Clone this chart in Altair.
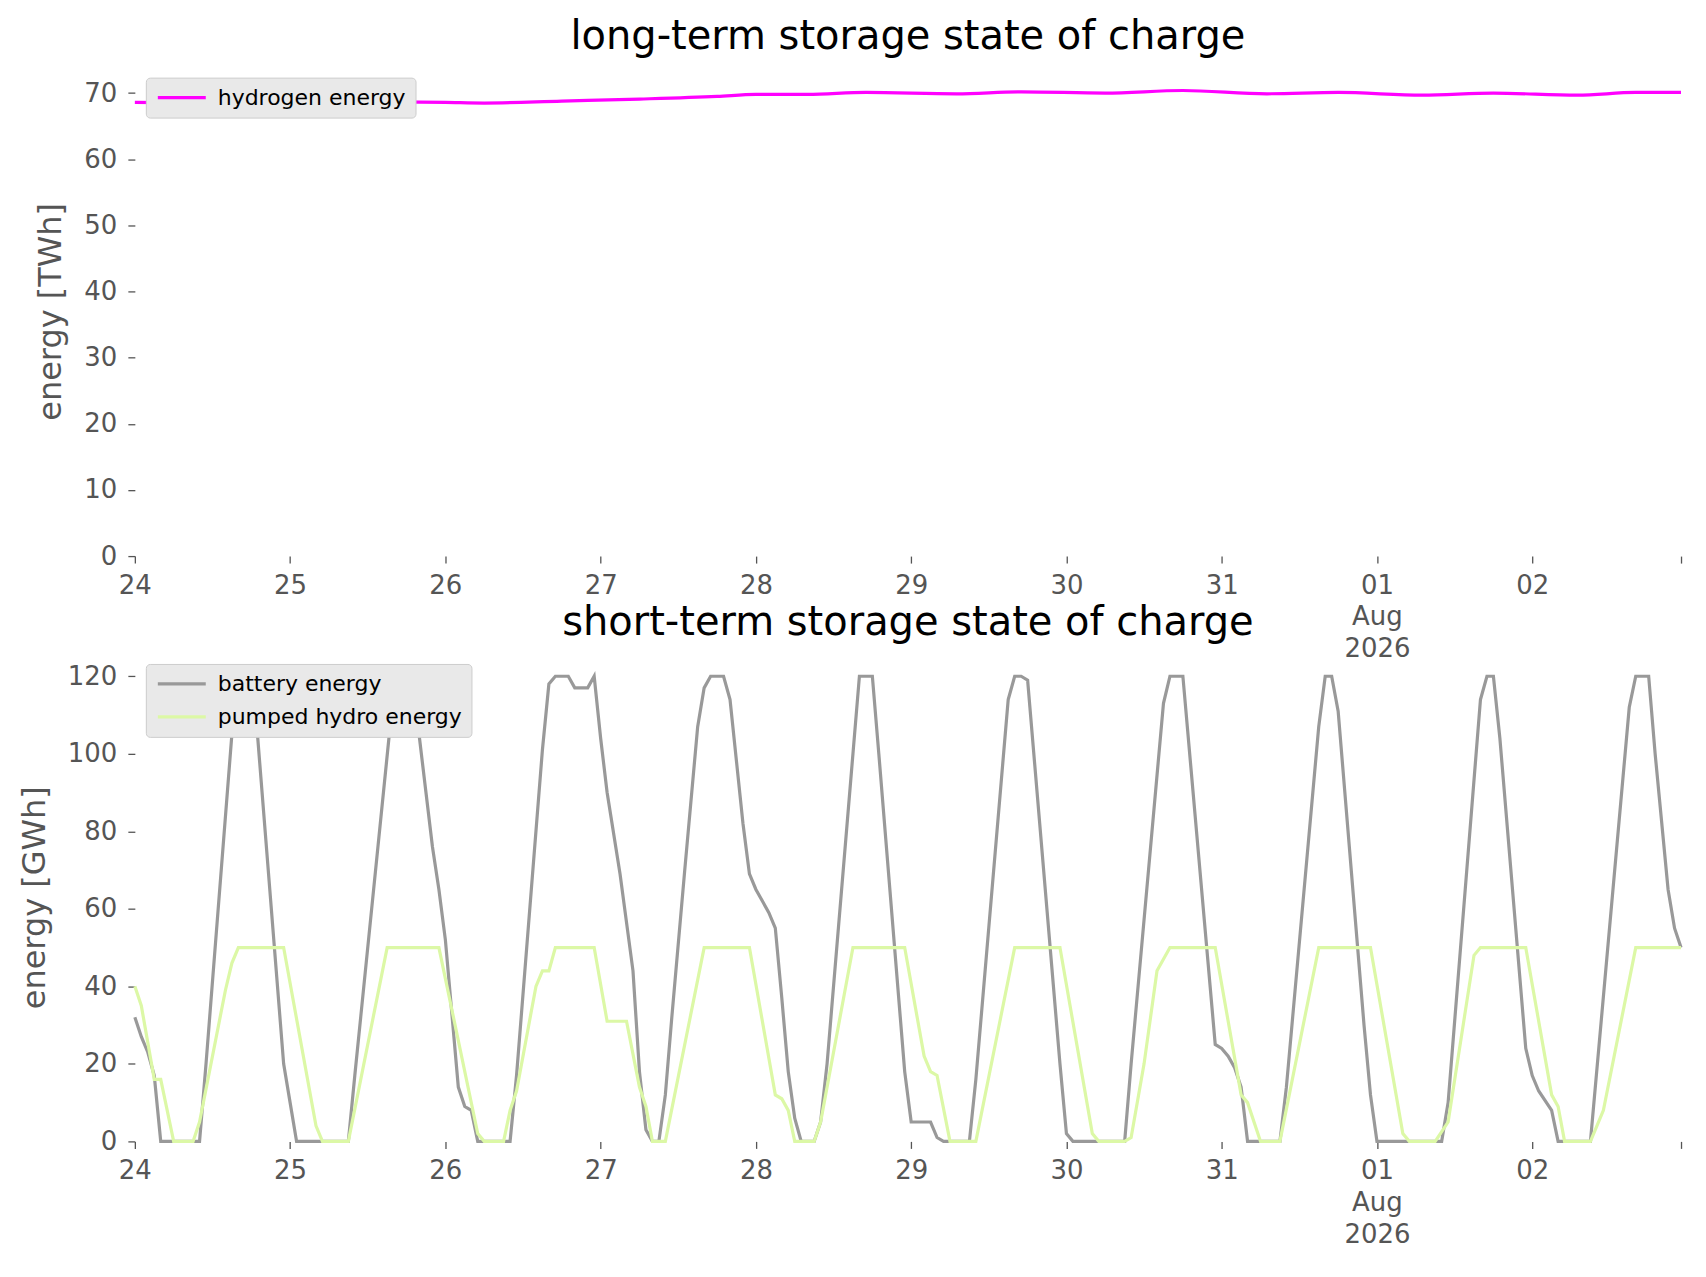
import altair as alt
import pandas as pd

# x positions: hours after 2026-07-24 00:00 (hourly snapshots up to 2026-08-02 23:00)
x_tick_hours = [0, 24, 48, 72, 96, 120, 144, 168, 192, 216, 239]
x_tick_labels = ["24", "25", "26", "27", "28", "29", "30", "31", "01\nAug\n2026", "02", ""]

hydrogen_hours = [0, 12, 24, 36, 48, 54, 66, 78, 90, 96, 104, 113, 127, 137, 150, 162,
                  175, 186, 199, 210, 223, 232, 239]
hydrogen_twh = [68.6, 68.5, 68.6, 68.7, 68.6, 68.5, 68.8, 69.1, 69.5, 69.8, 69.8, 70.1,
                69.9, 70.2, 70.0, 70.4, 69.9, 70.1, 69.7, 70.0, 69.7, 70.1, 70.1]

battery_hours = [0, 1, 2, 3, 4,
                 10, 11, 15, 16, 17, 18, 19, 23, 24, 25,
                 33, 34, 40, 41, 43, 44, 45, 46, 47, 48, 49, 50, 51, 52, 53,
                 58, 59, 63, 64, 65, 67, 68, 70, 71, 72, 73, 75, 77, 78, 79, 80,
                 81, 82, 83, 85, 87, 88, 89, 91, 92, 94, 95, 96, 97, 98, 99, 100, 101, 102, 103,
                 105, 106, 107, 111, 112, 114, 115, 119, 120, 123, 124, 125,
                 129, 130, 135, 136, 137, 138, 143, 144, 145,
                 153, 154, 159, 160, 162, 167, 168, 169, 170, 171, 172,
                 177, 178, 183, 184, 185, 186, 190, 191, 192,
                 202, 203, 208, 209, 210, 211, 215, 216, 217, 219, 220,
                 225, 231, 232, 234, 235, 237, 238, 239]
battery_gwh = [32, 27, 23, 17, 0,
               0, 20, 105, 118, 120, 120, 104, 20, 10, 0,
               0, 17, 116, 120, 120, 104, 90, 76, 65, 52, 33, 14, 9, 8, 0,
               0, 17, 101, 118, 120, 120, 117, 117, 120, 104, 90, 69, 44, 18, 3, 0,
               0, 12, 32, 70, 107, 117, 120, 120, 114, 82, 69, 65, 62, 59, 55, 37, 18, 6, 0,
               0, 5, 20, 100, 120, 120, 100, 18, 5, 5, 1, 0,
               0, 16, 114, 120, 120, 119, 20, 2, 0,
               0, 20, 113, 120, 120, 25, 24, 22, 19, 14, 0,
               0, 14, 107, 120, 120, 111, 30, 12, 0,
               0, 10, 114, 120, 120, 104, 24, 17, 13, 8, 0,
               0, 112, 120, 120, 100, 65, 55, 50]

phs_hours = [0, 1, 3, 4, 6,
             9, 10, 14, 15, 16, 23, 28, 29,
             33, 39, 47, 53, 54,
             57, 58, 59, 62, 63, 64, 65, 71, 73, 76, 78, 79, 80,
             82, 88, 95, 99, 100, 101, 102,
             105, 106, 111, 119, 122, 123, 124, 126,
             130, 136, 143, 148, 149,
             153, 154, 156, 158, 160, 167, 171, 172, 174,
             177, 183, 191, 196, 197,
             201, 203, 207, 208, 215, 219, 220, 221,
             225, 227, 232, 239]
phs_gwh = [40, 35, 16, 16, 0,
           0, 5, 39, 46, 50, 50, 4, 0,
           0, 50, 50, 2, 0,
           0, 8, 13, 40, 44, 44, 50, 50, 31, 31, 14, 9, 0,
           0, 50, 50, 12, 11, 8, 0,
           0, 5, 50, 50, 22, 18, 17, 0,
           0, 50, 50, 2, 0,
           0, 1, 20, 44, 50, 50, 12, 10, 0,
           0, 50, 50, 2, 0,
           0, 5, 48, 50, 50, 12, 9, 0,
           0, 8, 50, 50]

hydrogen_df = pd.DataFrame({"hour": hydrogen_hours, "value": hydrogen_twh,
                            "series": "hydrogen energy"})
battery_df = pd.DataFrame({"hour": battery_hours, "value": battery_gwh,
                           "series": "battery energy"})
phs_df = pd.DataFrame({"hour": phs_hours, "value": phs_gwh,
                       "series": "pumped hydro energy"})

FONT = "DejaVu Sans"
GREY = "#555555"
PLOT_W = 1548
LW = 3.2


def js_label(lab):
    lines = lab.split("\n")
    if len(lines) > 1:
        return "[" + ",".join("'" + l + "'" for l in lines) + "]"
    return "'" + lab + "'"


label_expr = "''"
for h, lab in reversed(list(zip(x_tick_hours, x_tick_labels))):
    label_expr = f"datum.value == {h} ? {js_label(lab)} : ({label_expr})"


def x_enc():
    return alt.X(
        "hour:Q",
        scale=alt.Scale(domain=[0, 239], nice=False, zero=False),
        axis=alt.Axis(values=x_tick_hours, labelExpr=label_expr, title=None, grid=False,
                      domain=False, tickColor=GREY, tickSize=7, tickWidth=1.3,
                      labelColor=GREY, labelFontSize=26, labelFont=FONT, labelPadding=9,
                      labelLineHeight=32, labelFlush=False, labelOverlap=False,
                      labelBound=False),
    )


def y_enc(title, top, step):
    return alt.Y(
        "value:Q",
        scale=alt.Scale(domain=[0, top], nice=False, zero=True),
        axis=alt.Axis(values=list(range(0, int(top) + 1, step)), title=title, grid=False,
                      domain=False, tickColor=GREY, tickSize=7, tickWidth=1.3,
                      labelColor=GREY, labelFontSize=26, labelFont=FONT, labelPadding=11,
                      titleColor=GREY, titleFontSize=32, titleFont=FONT,
                      titleFontWeight="normal", titlePadding=16),
    )


def legend():
    return alt.Legend(title=None, orient="top-left", offset=11, fillColor="#e9e9e9",
                      strokeColor="#cccccc", padding=9, cornerRadius=4,
                      symbolType="M-4,0L4,0", symbolSize=144, symbolStrokeWidth=3.2,
                      symbolOffset=16, labelOffset=25,
                      labelFontSize=22, labelFont=FONT, labelColor="black",
                      rowPadding=11, labelLimit=400)


def title(text):
    return alt.TitleParams(text, fontSize=40, font=FONT, fontWeight="normal",
                           color="black", offset=10, anchor="middle")


no_frame = alt.ViewBackground(stroke="transparent", strokeWidth=0)

top_line = alt.Chart(hydrogen_df).mark_line(strokeWidth=LW, interpolate="monotone").encode(
    x=x_enc(),
    y=y_enc("energy [TWh]", 74, 10),
    color=alt.Color("series:N", scale=alt.Scale(domain=["hydrogen energy"], range=["#ff00ff"]),
                    legend=legend()),
)
top = alt.layer(top_line).properties(width=PLOT_W, height=490, view=no_frame,
                                     title=title("long-term storage state of charge"))

short_scale = alt.Scale(domain=["battery energy", "pumped hydro energy"],
                        range=["#999999", "#dcf8a6"])
bat_line = alt.Chart(battery_df).mark_line(strokeWidth=LW).encode(
    x=x_enc(), y=y_enc("energy [GWh]", 126, 20),
    color=alt.Color("series:N", scale=short_scale, legend=legend()),
)
phs_line = alt.Chart(phs_df).mark_line(strokeWidth=LW).encode(
    x=x_enc(), y=y_enc("energy [GWh]", 126, 20),
    color=alt.Color("series:N", scale=short_scale, legend=legend()),
)
bottom = alt.layer(bat_line, phs_line).properties(
    width=PLOT_W, height=489, view=no_frame,
    title=title("short-term storage state of charge"))

chart = (
    alt.vconcat(top, bottom, spacing=97, bounds="flush")
    .resolve_scale(color="independent")
    .resolve_legend(color="independent")
    .properties(padding={"left": 10, "top": 8, "right": 10, "bottom": 5}, background="white")
    .configure_view(stroke="transparent", strokeWidth=0)
    .configure(font=FONT)
)

chart.save("out.html", embed_options={"renderer": "svg", "actions": False})
